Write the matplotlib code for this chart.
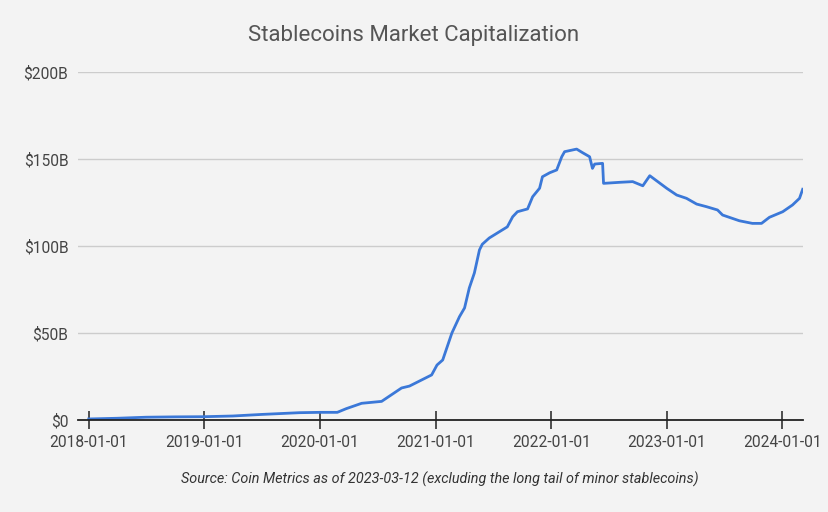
import matplotlib
matplotlib.use("Agg")
import matplotlib.pyplot as plt
import pandas as pd

dates = ["2018-01-01", "2018-04-01", "2018-07-01", "2018-10-01", "2019-01-01",
         "2019-04-01", "2019-07-01", "2019-10-28", "2020-01-01", "2020-02-25",
         "2020-03-24", "2020-05-12", "2020-07-14", "2020-09-15", "2020-10-10",
         "2020-12-19", "2021-01-05", "2021-01-23", "2021-02-21", "2021-03-17",
         "2021-04-02", "2021-04-17", "2021-05-03", "2021-05-19", "2021-05-28",
         "2021-06-19", "2021-07-21", "2021-08-15", "2021-09-01", "2021-09-16",
         "2021-10-18", "2021-11-03", "2021-11-25", "2021-12-04", "2021-12-27",
         "2022-01-18", "2022-02-03", "2022-02-12", "2022-03-22", "2022-04-10",
         "2022-05-02", "2022-05-11", "2022-05-18", "2022-06-12", "2022-06-15",
         "2022-08-05", "2022-09-15", "2022-10-17", "2022-11-08", "2023-01-01",
         "2023-02-01", "2023-03-04", "2023-04-05", "2023-05-06", "2023-06-10",
         "2023-06-26", "2023-08-18", "2023-09-28", "2023-10-27", "2023-11-21",
         "2024-01-02", "2024-02-02", "2024-02-24", "2024-03-05"]
market_cap_billions = [0.6, 1.0, 1.6, 1.8, 1.9,
                       2.3, 3.2, 4.2, 4.4, 4.4,
                       6.5, 9.6, 10.7, 18.4, 19.5,
                       25.9, 31.6, 34.5, 50.0, 59.4,
                       64.4, 75.9, 84.5, 97.7, 101.0,
                       104.6, 108.2, 111.0, 116.8, 119.7,
                       121.3, 128.3, 133.2, 139.8, 142.1,
                       143.7, 151.3, 154.2, 155.7, 153.6,
                       151.3, 144.6, 147.1, 147.5, 136.0,
                       136.6, 137.0, 134.6, 140.4, 133.1,
                       129.3, 127.4, 124.1, 122.6, 120.7,
                       117.8, 114.5, 113.0, 113.0, 116.5,
                       119.7, 123.6, 127.4, 132.6]
x_ticks = ["2018-01-01", "2019-01-01", "2020-01-01", "2021-01-01",
           "2022-01-01", "2023-01-01", "2024-01-01"]
y_ticks = [0, 50, 100, 150, 200]
y_labels = ["$0", "$50B", "$100B", "$150B", "$200B"]

title = "Stablecoins Market Capitalization"
source = "Source: Coin Metrics as of 2023-03-12 (excluding the long tail of minor stablecoins)"

bg = "#f3f3f3"
plt.rcParams["font.family"] = ["Roboto", "DejaVu Sans"]

fig = plt.figure(figsize=(8.29, 5.12), dpi=100, facecolor=bg)
ax = fig.add_axes([78 / 829, 1 - 420 / 512, (803 - 78) / 829, (420 - 72) / 512])
ax.set_facecolor(bg)

d = pd.to_datetime(dates)
ax.plot(d, market_cap_billions, color="#3b78d8", linewidth=2.0, solid_joinstyle="round")

ax.set_ylim(0, 200)
ax.set_xlim(pd.Timestamp("2017-11-28"), pd.Timestamp("2024-03-06"))
ax.set_yticks(y_ticks)
ax.set_yticklabels(y_labels)
xt = pd.to_datetime(x_ticks)
ax.set_xticks(xt)
ax.set_xticklabels(x_ticks)

ax.grid(axis="y", color="#cccccc", linewidth=1.0)
ax.set_axisbelow(True)
for s in ["top", "right", "left"]:
    ax.spines[s].set_visible(False)
ax.spines["bottom"].set_color("#222222")
ax.spines["bottom"].set_linewidth(1.3)
ax.spines["bottom"].set_zorder(3)

ax.tick_params(axis="y", length=0, pad=7, labelsize=11.2, labelcolor="#444444")
ax.tick_params(axis="x", direction="inout", length=13, width=1.1, color="#222222",
               pad=4, labelsize=11.2, labelcolor="#444444")

fig.text(414 / 829, 1 - 35 / 512, title, ha="center", va="center",
         fontsize=16, color="#555555")
fig.text(440 / 829, 1 - 479 / 512, source, ha="center", va="center",
         fontsize=10.4, style="italic", color="#333333")

fig.savefig("out.png", dpi=100, facecolor=bg)
